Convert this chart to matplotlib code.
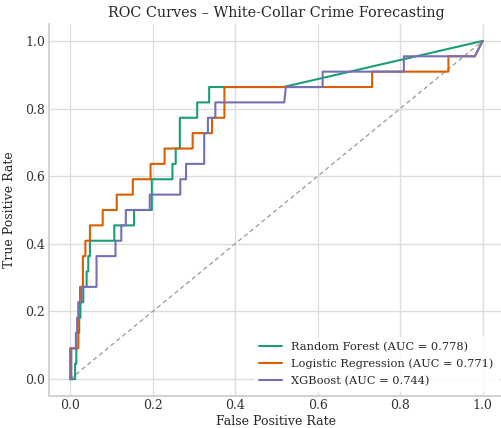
import numpy as np
import matplotlib
matplotlib.use("Agg")
import matplotlib.pyplot as plt
import seaborn as sns

# Positives in the test set; TPR counts below are true positives out of this.
N_POS = 22

models = ["Random Forest", "Logistic Regression", "XGBoost"]
auc_values = [0.778, 0.771, 0.744]

# ROC corner points (false positive rate, true positive count)
rf_fpr = [0, 0.012, 0.012, 0.015, 0.015, 0.022, 0.022, 0.025, 0.025, 0.032, 0.032,
          0.040, 0.040, 0.044, 0.044, 0.048, 0.048, 0.107, 0.107, 0.155, 0.155,
          0.198, 0.198, 0.248, 0.248, 0.256, 0.256, 0.266, 0.266, 0.308, 0.308,
          0.337, 0.337, 0.517, 1.0]
rf_tp = [0, 0, 1, 1, 3, 3, 4, 4, 5, 5, 6, 6, 7, 7, 8, 8, 9, 9, 10, 10, 11,
         11, 13, 13, 14, 14, 15, 15, 17, 17, 18, 18, 19, 19, 22]

lr_fpr = [0, 0, 0.020, 0.020, 0.024, 0.024, 0.031, 0.031, 0.037, 0.037, 0.048,
          0.048, 0.079, 0.079, 0.113, 0.113, 0.152, 0.152, 0.195, 0.195, 0.229,
          0.229, 0.297, 0.297, 0.344, 0.344, 0.374, 0.374, 0.732, 0.732, 0.917,
          0.917, 0.981, 1.0]
lr_tp = [0, 2, 2, 5, 5, 6, 6, 8, 8, 9, 9, 10, 10, 11, 11, 12, 12, 13, 13, 14,
         14, 15, 15, 16, 16, 17, 17, 19, 19, 20, 20, 21, 21, 22]

xgb_fpr = [0, 0.003, 0.003, 0.014, 0.014, 0.017, 0.017, 0.021, 0.021, 0.028, 0.028,
           0.064, 0.064, 0.110, 0.110, 0.124, 0.124, 0.135, 0.135, 0.193, 0.193,
           0.267, 0.267, 0.281, 0.281, 0.325, 0.325, 0.334, 0.334, 0.352, 0.352,
           0.519, 0.523, 0.612, 0.612, 0.809, 0.809, 0.981, 1.0]
xgb_tp = [0, 0, 2, 2, 3, 3, 4, 4, 5, 5, 6, 6, 8, 8, 9, 9, 10, 10, 11, 11, 12,
          12, 13, 13, 14, 14, 16, 16, 17, 17, 18, 18, 19, 19, 20, 20, 21, 21, 22]

x_ticks = [0.0, 0.2, 0.4, 0.6, 0.8, 1.0]
y_ticks = [0.0, 0.2, 0.4, 0.6, 0.8, 1.0]

sns.set_theme(style="whitegrid", palette="Dark2")
plt.rcParams["font.family"] = ["DejaVu Serif"]

colors = sns.color_palette("Dark2", 3)

fig = plt.figure(figsize=(5.02, 4.28), dpi=100)
ax = fig.add_axes([49.5 / 502, (428 - 396) / 428, (503.3 - 49.5) / 502, (396 - 24) / 428])
ax.grid(True, color="#dddddd", linewidth=1.0)

ax.plot([0, 1], [0, 1], linestyle=(0, (3.5, 2.5)), color="#999999", linewidth=0.9, zorder=1)

curves = [(rf_fpr, rf_tp), (lr_fpr, lr_tp), (xgb_fpr, xgb_tp)]
for (fpr, tp), name, auc, c in zip(curves, models, auc_values, colors):
    tpr = np.asarray(tp) / N_POS
    ax.plot(fpr, tpr, color=c, linewidth=1.5, label=f"{name} (AUC = {auc:.3f})", zorder=2)

ax.set_xlim(-0.05, 1.05)
ax.set_ylim(-0.05, 1.05)
ax.set_xticks(x_ticks)
ax.set_yticks(y_ticks)
ax.tick_params(labelsize=9, colors="#333333", length=0, pad=2.5)
ax.tick_params(axis="y", pad=3)
ax.set_xlabel("False Positive Rate", fontsize=9, color="#262626", labelpad=1.5)
ax.set_ylabel("True Positive Rate", fontsize=9, color="#262626", labelpad=7)
ax.set_title("ROC Curves \u2013 White-Collar Crime Forecasting", fontsize=10.4,
             color="#262626", pad=5)

for side in ["top", "right"]:
    ax.spines[side].set_visible(False)
for side in ["left", "bottom"]:
    ax.spines[side].set_color("#cccccc")

leg = ax.legend(loc="lower right", fontsize=8.2, frameon=True, facecolor="white",
                edgecolor="white", framealpha=0.9, borderaxespad=0.45,
                labelspacing=0.6)

fig.savefig("out.png", dpi=100)
